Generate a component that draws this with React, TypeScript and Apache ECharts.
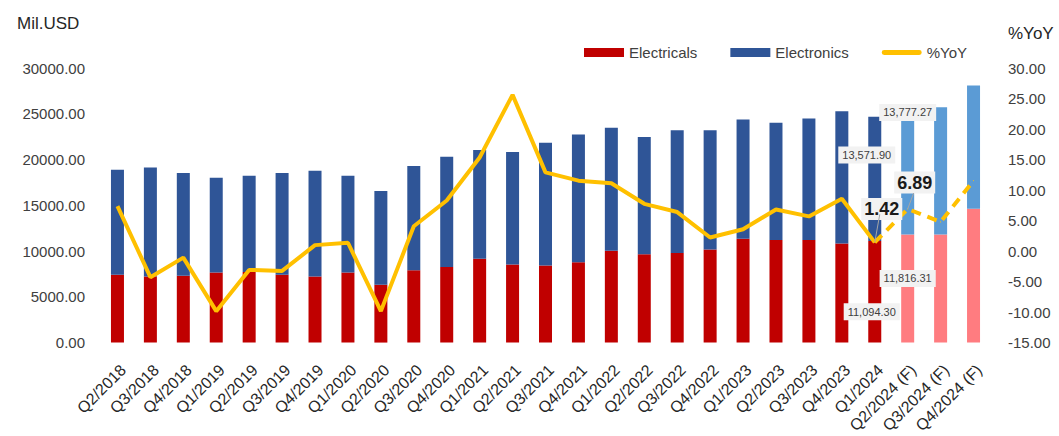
import React, { useEffect, useRef } from "react";
import * as echarts from "echarts";

const categories = [
  "Q2/2018", "Q3/2018", "Q4/2018", "Q1/2019", "Q2/2019", "Q3/2019", "Q4/2019",
  "Q1/2020", "Q2/2020", "Q3/2020", "Q4/2020", "Q1/2021", "Q2/2021", "Q3/2021",
  "Q4/2021", "Q1/2022", "Q2/2022", "Q3/2022", "Q4/2022", "Q1/2023", "Q2/2023",
  "Q3/2023", "Q4/2023", "Q1/2024", "Q2/2024 (F)", "Q3/2024 (F)", "Q4/2024 (F)",
];

const electricals = [
  7400, 7220, 7290, 7650, 7700, 7400, 7220, 7650, 6320, 7900, 8270, 9170, 8520,
  8420, 8770, 10040, 9640, 9780, 10180, 11340, 11200, 11200, 10830, 11094.3,
  11816.31, 11820, 14620,
];

const electronics = [
  11480, 11920, 11230, 10360, 10530, 11120, 11550, 10580, 10250, 11380, 12020,
  11870, 12310, 13420, 13970, 13430, 12810, 13430, 13030, 13030, 12810, 13280,
  14440, 13571.9, 13777.27, 13880, 13460,
];

const yoy = [
  7.37, -4.28, -1.08, -9.85, -3.09, -3.25, 0.97, 1.36, -9.85, 4.06, 8.29, 15.33,
  25.6, 12.89, 11.54, 11.1, 7.74, 6.39, 2.22, 3.57, 6.82, 5.68, 8.56, 1.42, 6.89,
  4.77, 11.54,
];

const forecastStart = 24;
const lastActual = 23;
const labelledYoy = [23, 24];
const leftTicks = { min: 0, max: 30000, interval: 5000 };
const rightTicks = { min: -15, max: 30, interval: 5 };

const FONT = "'Liberation Sans', Arial, sans-serif";

const fmt = (v: number) =>
  v.toLocaleString("en-US", { minimumFractionDigits: 2, maximumFractionDigits: 2 });

const boxLabel = (offset: number[]) => ({
  show: true,
  position: "inside",
  offset,
  formatter: (p: any) => fmt(p.value),
  backgroundColor: "#F2F2F2",
  padding: [3, 4],
  color: "#404040",
  fontSize: 11,
  fontFamily: FONT,
});

const barLabelOffsets: Record<string, Record<number, number[]>> = {
  electricals: { 23: [-3, 20], 24: [0, -10] },
  electronics: { 23: [-8, -24], 24: [0, -59] },
};

export default function App() {
  const ref = useRef<HTMLDivElement>(null);

  useEffect(() => {
    document.body.style.margin = "0";
    const chart = echarts.init(ref.current!, undefined, { renderer: "svg" });

    const elecData = electricals.map((v, i) => {
      const item: any = { value: v };
      if (i >= forecastStart) item.itemStyle = { color: "#FF7C80" };
      const off = barLabelOffsets.electricals[i];
      if (off) item.label = boxLabel(off);
      return item;
    });
    const tronData = electronics.map((v, i) => {
      const item: any = { value: v };
      if (i >= forecastStart) item.itemStyle = { color: "#5B9BD5" };
      const off = barLabelOffsets.electronics[i];
      if (off) item.label = boxLabel(off);
      return item;
    });

    const lineLabel = {
      show: true,
      position: "top",
      formatter: (p: any) => Number(p.value).toFixed(2),
      backgroundColor: "#F2F2F2",
      padding: [2, 3],
      color: "#1a1a1a",
      fontSize: 18,
      fontWeight: "bold",
      fontFamily: FONT,
    };

    const solid = yoy.map((v, i) => (i <= lastActual ? v : null));
    const dashed = yoy.map((v, i) => {
      if (i < lastActual) return null;
      if (labelledYoy.includes(i)) return { value: v, label: lineLabel };
      return { value: v, label: { show: false } };
    });

    const layoutOffsets: Record<number, number[]> = { 23: [7, -17], 24: [7, -10] };
    const leaderOffsets: Record<number, number[]> = { 23: [5, -28], 24: [6, -16] };
    const leaderData = labelledYoy.map((i) => [i, yoy[i]]);

    chart.setOption({
      animation: false,
      textStyle: { fontFamily: FONT },
      grid: { left: 101, right: 69, top: 68, bottom: 91, containLabel: false },
      legend: {
        data: [
          { name: "Electricals", icon: "rect" },
          { name: "Electronics", icon: "rect" },
          { name: "%YoY", icon: "path://M2,0 L38,0 A2.5,2.5 0 0 1 38,5 L2,5 A2.5,2.5 0 0 1 2,0 Z" },
        ],
        left: 579,
        top: 40,
        itemWidth: 40,
        itemHeight: 9,
        itemGap: 33,
        textStyle: { fontSize: 15, color: "#404040", fontFamily: FONT },
      },
      graphic: [
        {
          type: "text",
          left: 17,
          top: 15,
          style: { text: "Mil.USD", fontSize: 17, fill: "#262626", fontFamily: FONT },
        },
        {
          type: "text",
          left: 1008,
          top: 25,
          style: { text: "%YoY", fontSize: 17, fill: "#262626", fontFamily: FONT },
        },
      ],
      xAxis: {
        type: "category",
        data: categories,
        axisLine: { show: false },
        axisTick: { show: false },
        axisLabel: {
          interval: 0,
          rotate: 45,
          margin: 19,
          fontSize: 16,
          color: "#262626",
          fontFamily: FONT,
          verticalAlign: "top",
        },
      },
      yAxis: [
        {
          type: "value",
          ...leftTicks,
          splitLine: { show: false },
          axisLine: { show: false },
          axisTick: { show: false },
          axisLabel: {
            margin: 16,
            fontSize: 15,
            color: "#404040",
            fontFamily: FONT,
            formatter: (v: number) => v.toFixed(2),
          },
        },
        {
          type: "value",
          ...rightTicks,
          position: "right",
          splitLine: { show: false },
          axisLine: { show: false },
          axisTick: { show: false },
          axisLabel: {
            margin: 18,
            fontSize: 15,
            color: "#404040",
            fontFamily: FONT,
            formatter: (v: number) => v.toFixed(2),
          },
        },
      ],
      series: [
        {
          name: "Electricals",
          type: "bar",
          stack: "total",
          barWidth: 13,
          itemStyle: { color: "#C00000" },
          data: elecData,
          z: 2,
        },
        {
          name: "Electronics",
          type: "bar",
          stack: "total",
          barWidth: 13,
          itemStyle: { color: "#2F5597" },
          data: tronData,
          z: 2,
        },
        {
          name: "%YoY",
          type: "line",
          yAxisIndex: 1,
          data: solid,
          symbol: "none",
          lineStyle: { color: "#FFC000", width: 4 },
          itemStyle: { color: "#FFC000" },
          z: 3,
        },
        {
          name: "%YoY",
          type: "line",
          yAxisIndex: 1,
          data: dashed,
          symbol: "circle",
          symbolSize: 1,
          showSymbol: true,
          lineStyle: { color: "#FFC000", width: 4, type: [10, 7] },
          itemStyle: { color: "#FFC000" },
          labelLayout: (p: any) => {
            const o = layoutOffsets[p.dataIndex];
            return o ? { dx: o[0], dy: o[1] } : {};
          },
          z: 4,
        },
        {
          name: "leader",
          type: "custom",
          yAxisIndex: 1,
          data: leaderData,
          silent: true,
          z: 5,
          renderItem: (params: any, api: any) => {
            const idx = api.value(0);
            const p = api.coord([idx, api.value(1)]);
            const o = leaderOffsets[idx] || [0, 0];
            return {
              type: "line",
              shape: { x1: p[0], y1: p[1], x2: p[0] + o[0], y2: p[1] + o[1] },
              style: { stroke: "#A6A6A6", lineWidth: 1 },
            };
          },
        },
      ],
    });

    return () => chart.dispose();
  }, []);

  return <div ref={ref} style={{ width: 1059, height: 436 }} />;
}
